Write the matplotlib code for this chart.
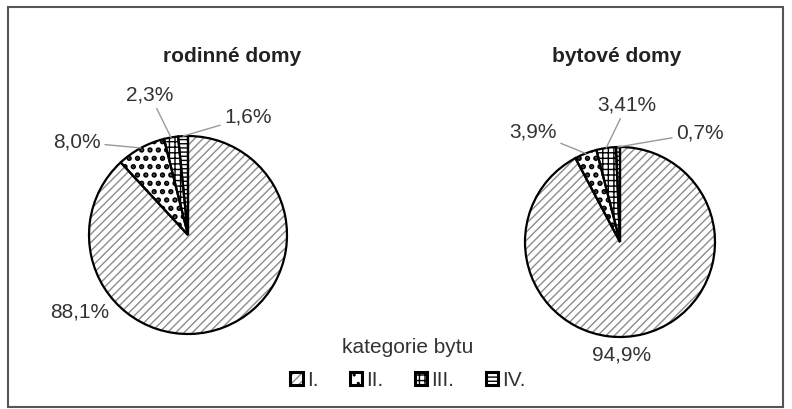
import matplotlib.pyplot as plt
import numpy as np
from matplotlib.patches import Patch, Rectangle
from matplotlib.legend_handler import HandlerTuple

plt.rcParams["font.family"] = ["Liberation Sans", "DejaVu Sans"]
plt.rcParams["hatch.linewidth"] = 1.0

W, H = 792, 409

categories = ["I.", "II.", "III.", "IV."]
rodinne = [88.1, 8.0, 2.3, 1.6]
bytove = [94.9, 3.9, 3.41, 0.7]
rodinne_labels = ["88,1%", "8,0%", "2,3%", "1,6%"]
bytove_labels = ["94,9%", "3,9%", "3,41%", "0,7%"]

hatches = ["////", "..", "+++", "----"]
hatch_colors = ["#8c8c8c", "black", "black", "black"]
hatch_widths = [1.0, 2.6, 1.0, 1.0]
text_color = "#333333"


def fig_box(cx, cy, r):
    # axes box (figure fraction) for a pie of radius r px centred at (cx, cy), y down
    return [(cx - r) / W, (H - cy - r) / H, 2 * r / W, 2 * r / H]


def style_patch(p, hatch, color, width):
    p.set_hatch(hatch)
    p.set_edgecolor(color)
    if hasattr(p, "set_hatch_linewidth"):
        p.set_hatch_linewidth(width)
    else:
        p._hatch_linewidth = width


def draw_pie(fig, cx, cy, r, values, labels, title, label_pos, leader):
    ax = fig.add_axes(fig_box(cx, cy, r))
    wedges, _ = ax.pie(values, startangle=90, counterclock=False, radius=1,
                       colors=["white"] * 4,
                       wedgeprops=dict(linewidth=0))
    for w, h, c, lw in zip(wedges, hatches, hatch_colors, hatch_widths):
        style_patch(w, h, c, lw)
    # black outlines on top of the hatching
    ax.pie(values, startangle=90, counterclock=False, radius=1,
           wedgeprops=dict(fill=False, edgecolor="black", linewidth=1.6))
    ax.set_xlim(-1, 1)
    ax.set_ylim(-1, 1)
    ax.set_aspect("auto")

    for w, lab, (tx, ty), has_line in zip(wedges, labels, label_pos, leader):
        mid = np.deg2rad((w.theta1 + w.theta2) / 2)
        xy = (np.cos(mid), np.sin(mid))
        arrow = dict(arrowstyle="-", color="#999999", lw=1.0,
                     shrinkA=1, shrinkB=0) if has_line else None
        ax.annotate(lab, xy=xy, xycoords="data",
                    xytext=(tx, H - ty), textcoords="figure pixels",
                    ha="center", va="center", fontsize=15, color=text_color,
                    arrowprops=arrow)

    fig.text(title[1] / W, 1 - title[2] / H, title[0], ha="center", va="center",
             fontsize=15, fontweight="bold", color="#222222")
    return wedges


fig = plt.figure(figsize=(W / 100, H / 100), dpi=100)

# outer frame
fig.patches.append(Rectangle((8 / W, 2 / H), 775 / W, 400 / H, transform=fig.transFigure,
                             fill=False, edgecolor="#555555", linewidth=1.5))

draw_pie(fig, 188, 235, 99, rodinne, rodinne_labels,
         ("rodinné domy", 232, 56),
         [(80, 312), (77, 142), (150, 95), (248, 117)],
         [False, True, True, True])
draw_pie(fig, 620, 242, 95, bytove, bytove_labels,
         ("bytové domy", 617, 56),
         [(622, 355), (533, 132), (627, 105), (700, 133)],
         [False, True, True, True])

handles = []
for h, c, lw in zip(hatches, hatch_colors, hatch_widths):
    inner = Patch(facecolor="white", linewidth=0)
    style_patch(inner, h, c, lw)
    handles.append((inner, Patch(fill=False, edgecolor="black", linewidth=2.2)))

leg = fig.legend(handles, categories, ncol=4, loc="center",
                 bbox_to_anchor=(408 / W, 1 - 364 / H),
                 frameon=False, fontsize=15, title="kategorie bytu", title_fontsize=15,
                 handlelength=0.6, handleheight=0.6, handletextpad=0.2,
                 columnspacing=1.5, labelspacing=0.3,
                 handler_map={tuple: HandlerTuple(ndivide=1)})
leg._legend_box.sep = 10
for t in leg.get_texts():
    t.set_color(text_color)
leg.get_title().set_color(text_color)

fig.savefig("out.png", dpi=100)
